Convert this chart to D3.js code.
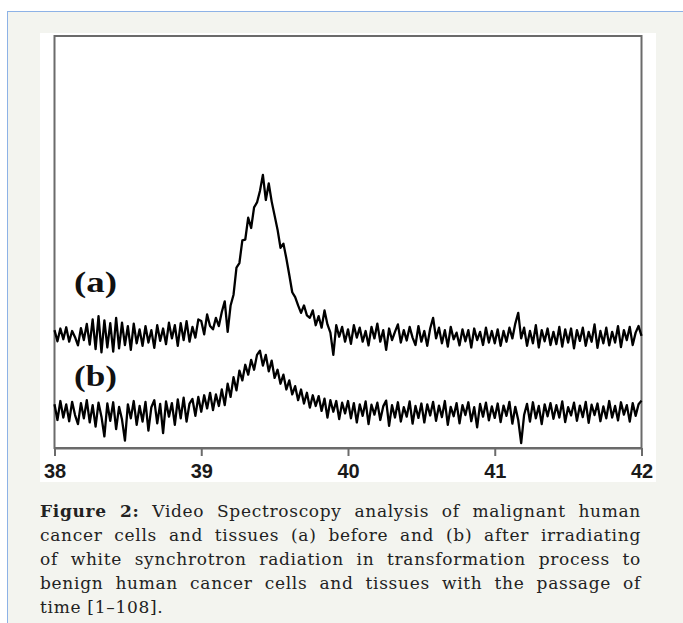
<!DOCTYPE html>
<html>
<head>
<meta charset="utf-8">
<script src="https://cdn.jsdelivr.net/npm/d3@7"></script>
<style>
  body { margin: 0; background: #fff; }
  #fig { position: relative; width: 683px; height: 623px; overflow: hidden; }
  #fig svg { position: absolute; left: 0; top: 0; }
  .caption { position: absolute; left: 40px; top: 499px; width: 601px;
             font-family: "DejaVu Serif", serif; font-size: 17px; letter-spacing: 0.7px;
             line-height: 24px; color: #222; }
  .caption div { text-align: justify; text-align-last: justify; }
  .caption div.last { text-align-last: left; }
</style>
</head>
<body>
<div id="fig"></div>
<script>
//Static variables
var W = 683, H = 623;

//x grid of the spectrum (energy axis)
var xStart = 38, xStep = 0.02;
var xTicks = [38, 39, 40, 41, 42];

//(a) before irradiation (arbitrary intensity units)
var seriesA = [
  28.6, 25.9, 29.0, 26.4, 29.3, 25.8, 28.4, 26.9, 24.9, 29.1,
  26.2, 30.1, 25.1, 31.2, 24.0, 32.0, 23.2, 31.0, 24.4, 30.3,
  23.4, 31.6, 24.2, 30.4, 25.0, 29.6, 23.8, 30.2, 25.4, 28.8,
  24.8, 29.6, 25.6, 28.6, 24.3, 29.8, 26.0, 29.0, 25.2, 30.4,
  26.6, 29.8, 24.8, 30.3, 26.2, 30.8, 25.8, 29.4, 26.8, 31.2,
  30.8, 27.6, 32.4, 29.6, 28.8, 31.6, 29.6, 33.0, 35.6, 28.2,
  34.6, 37.2, 43.8, 44.9, 50.4, 50.6, 55.9, 53.4, 58.4, 59.6,
  62.4, 66.3, 60.2, 64.2, 59.8, 56.4, 53.0, 48.6, 49.6, 46.0,
  42.0, 37.8, 36.6, 34.6, 32.8, 34.6, 32.2, 31.6, 33.4, 29.8,
  32.0, 29.2, 33.4, 30.0, 28.0, 22.6, 29.8, 27.0, 29.4, 25.8,
  28.8, 25.3, 29.8, 26.8, 29.2, 25.8, 28.4, 24.9, 29.4, 26.6,
  30.2, 25.8, 28.6, 23.8, 29.0, 26.2, 28.2, 30.0, 25.6, 28.6,
  26.1, 29.4, 26.8, 25.0, 29.6, 25.8, 28.4, 24.8, 29.0, 31.6,
  26.6, 29.2, 25.4, 28.6, 24.6, 29.4, 26.4, 28.0, 24.9, 28.8,
  25.9, 28.6, 24.4, 29.0, 26.2, 28.2, 25.0, 29.2, 25.6, 28.4,
  25.4, 28.8, 24.8, 28.4, 25.8, 29.2, 26.6, 30.2, 32.8, 26.6,
  29.2, 24.8, 28.4, 25.4, 29.8, 24.4, 28.6, 25.9, 29.0, 25.0,
  28.2, 25.2, 29.4, 24.6, 28.8, 25.6, 29.0, 24.2, 28.6, 26.0,
  29.2, 24.8, 28.2, 25.8, 30.0, 24.3, 28.4, 25.4, 29.2, 24.9,
  28.2, 25.6, 29.6, 24.5, 28.6, 26.2, 29.4, 25.0, 28.0, 29.6, 27.2
];

//(b) after irradiation
var seriesB = [
  10.6, 6.8, 11.4, 7.4, 10.6, 6.5, 11.2, 8.0, 5.8, 10.9,
  7.2, 11.6, 6.2, 10.4, 5.2, 11.0, 7.6, 2.8, 10.8, 6.6,
  11.1, 4.6, 10.0, 6.9, 1.8, 10.6, 7.2, 11.4, 5.6, 10.2,
  6.4, 11.2, 4.2, 9.9, 11.6, 6.0, 10.7, 3.6, 11.3, 7.6,
  10.9, 5.6, 11.8, 7.2, 12.2, 6.4, 10.8, 11.9, 7.8, 12.4,
  8.8, 12.8, 9.6, 13.4, 9.2, 13.0, 10.2, 14.2, 10.4, 15.6,
  12.4, 17.2, 14.0, 18.8, 16.4, 20.2, 17.8, 21.4, 19.0, 22.6,
  23.6, 20.0, 22.6, 18.6, 21.2, 17.0, 19.0, 15.6, 17.8, 14.2,
  16.4, 13.0, 15.0, 11.6, 14.2, 10.8, 13.4, 9.8, 12.8, 10.2,
  12.6, 9.0, 12.0, 7.4, 11.6, 8.8, 11.4, 7.0, 11.0, 8.4,
  11.4, 7.2, 10.9, 6.2, 10.6, 7.8, 11.3, 5.8, 10.5, 8.1,
  11.0, 6.8, 10.1, 11.5, 5.4, 10.4, 7.4, 11.1, 6.4, 9.9,
  7.6, 11.3, 5.9, 10.2, 7.3, 10.8, 6.2, 10.6, 7.9, 11.2,
  6.6, 10.3, 7.5, 11.4, 5.6, 10.0, 7.7, 10.9, 6.0, 10.4,
  8.0, 11.1, 6.5, 9.9, 5.0, 10.7, 7.6, 11.0, 6.7, 10.1,
  7.3, 10.8, 6.3, 10.3, 7.8, 11.2, 5.9, 10.0, 6.8, 1.2,
  8.0, 10.7, 6.4, 11.1, 7.2, 10.2, 5.8, 10.6, 7.7, 10.9,
  7.1, 10.4, 7.4, 11.3, 6.3, 9.9, 7.9, 11.0, 6.6, 10.3,
  7.5, 11.2, 6.1, 10.5, 8.0, 10.8, 6.5, 10.1, 7.2, 11.4,
  7.4, 10.2, 6.7, 11.1, 8.1, 10.4, 6.4, 10.9, 7.8, 10.6, 11.5
];

//Labels
var seriesLabels = ['(a)', '(b)'];
var captionLabel = 'Figure 2:';
var captionLines = [
  ' Video Spectroscopy analysis of malignant human',
  'cancer cells and tissues (a) before and (b) after irradiating',
  'of white synchrotron radiation in transformation process to',
  'benign human cancer cells and tissues with the passage of',
  'time [1\u2013108].'
];

//Scales
var x = d3.scaleLinear().domain([38, 42]).range([54.5, 641.5]);
var y = d3.scaleLinear().domain([0, 100]).range([448, 36]);

var fig = d3.select('#fig');
var svg = fig.append('svg').attr('width', W).attr('height', H);

//Panel and picture background
svg.append('rect').attr('x', 7.5).attr('y', 11.5).attr('width', W).attr('height', H)
   .attr('fill', '#f3f4ef').attr('stroke', '#8db2e6').attr('stroke-width', 1);
svg.append('rect').attr('x', 40).attr('y', 33).attr('width', 616).attr('height', 449)
   .attr('fill', '#fff');

//Frame
svg.append('rect')
   .attr('x', x(38)).attr('y', y(100))
   .attr('width', x(42) - x(38)).attr('height', y(0) - y(100))
   .attr('fill', 'none').attr('stroke', '#6b6b6b').attr('stroke-width', 2);

//x axis
var axis = svg.append('g')
   .attr('transform', 'translate(0,' + y(0) + ')')
   .call(d3.axisBottom(x).tickValues(xTicks).tickFormat(d3.format('d'))
          .tickSize(8).tickSizeOuter(0).tickPadding(8));
axis.select('.domain').attr('stroke', '#6b6b6b').attr('stroke-width', 2);
axis.selectAll('.tick line').attr('stroke', '#6b6b6b').attr('stroke-width', 2);
axis.selectAll('.tick text')
    .attr('fill', '#1a1a1a')
    .style('font-family', '"Liberation Sans", Arial, sans-serif')
    .style('font-size', '20px')
    .style('font-weight', 'bold');

//Spectra
var line = d3.line()
  .x(function(d, i) { return x(xStart + i * xStep); })
  .y(function(d) { return y(d); });

svg.selectAll('path.trace')
   .data([seriesA, seriesB])
   .enter()
   .append('path')
   .attr('class', 'trace')
   .attr('d', line)
   .attr('fill', 'none')
   .attr('stroke', '#000')
   .attr('stroke-width', 2.3)
   .attr('stroke-linejoin', 'round');

//Series labels
svg.selectAll('text.lab')
   .data(seriesLabels)
   .enter()
   .append('text')
   .attr('class', 'lab')
   .attr('x', 74)
   .attr('y', function(d, i) { return i === 0 ? 292 : 386; })
   .attr('textLength', 43)
   .attr('lengthAdjust', 'spacingAndGlyphs')
   .style('font-family', '"Liberation Serif", "Times New Roman", serif')
   .style('font-size', '29px')
   .style('font-weight', 'bold')
   .attr('fill', '#111')
   .text(function(d) { return d; });

//Caption
var cap = fig.append('div').attr('class', 'caption');
cap.selectAll('div')
   .data(captionLines)
   .enter()
   .append('div')
   .attr('class', function(d, i) { return i === captionLines.length - 1 ? 'last' : null; })
   .each(function(d, i) {
     var el = d3.select(this);
     if (i === 0) el.append('b').text(captionLabel);
     el.append('span').text(d);
   });
</script>
</body>
</html>
